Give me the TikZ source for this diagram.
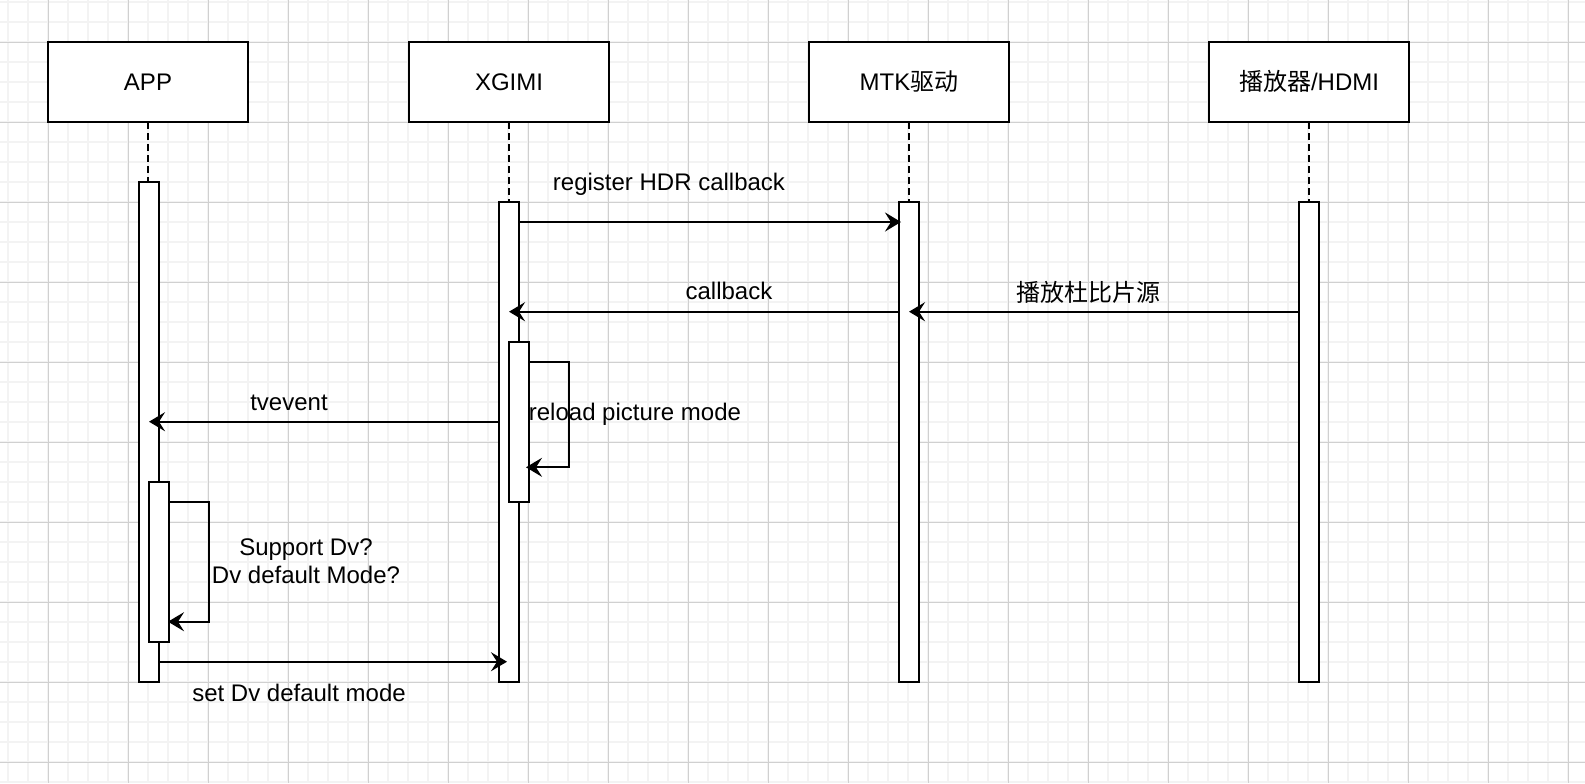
\documentclass[tikz,border=0pt]{standalone}
\usepackage{fontspec}
\setmainfont{Liberation Sans}
\newfontfamily\cjk{Noto Sans CJK SC}
\usetikzlibrary{arrows.meta}
\definecolor{gridminor}{HTML}{F3F3F3}
\definecolor{gridmajor}{HTML}{D0D0D0}
\begin{document}
\begin{tikzpicture}[x=0.5pt,y=-0.5pt,
  actor/.style={draw,line width=1.1pt,fill=white,minimum width=100pt,minimum height=40pt,
    inner sep=0pt,outer sep=0pt,text height=8.6pt,text depth=0pt,font=\fontsize{12}{14.25}\selectfont},
  bar/.style={draw,line width=1.1pt,fill=white,minimum width=10pt,inner sep=0pt,outer sep=0pt},
  life/.style={line width=1.1pt,dash pattern=on 3.5pt off 2pt},
  msg/.style={line width=1.1pt,-{Stealth[length=8pt,width=9.5pt,inset=3pt]}},
  lbl/.style={inner sep=0pt,font=\fontsize{12}{14.25}\selectfont},
  gminor/.style={gridminor,line width=1pt},
  gmajor/.style={gridmajor,line width=0.5pt},
]
\useasboundingbox (0,0) rectangle (1585,783);
\fill[white] (0,0) rectangle (1585,783);
\begin{scope}
\clip (0,0) rectangle (1585,783);
\foreach \i in {8,28,...,1588} \draw[gminor] (\i,0) -- (\i,783);
\foreach \j in {2,22,...,782} \draw[gminor] (0,\j) -- (1585,\j);
\foreach \i in {48,128,...,1568} \draw[gmajor] (\i,0) -- (\i,783);
\foreach \j in {42,122,...,762} \draw[gmajor] (0,\j) -- (1585,\j);
\end{scope}

% actors
\node[actor] (app) at (148,82) {APP};
\node[actor] (xg) at (509,82) {XGIMI};
\node[actor] (mtk) at (909,82) {MTK{\cjk 驱动}};
\node[actor] (hd) at (1309,82) {{\cjk 播放器}/HDMI};

% lifelines down to activation bars
\coordinate (abartop) at (149,182);
\coordinate (xbartop) at (509,202);
\coordinate (mbartop) at (909,202);
\coordinate (hbartop) at (1309,202);
\draw[life] (app.south) -- (app.south |- abartop);
\draw[life] (xg.south) -- (xg.south |- xbartop);
\draw[life] (mtk.south) -- (mtk.south |- mbartop);
\draw[life] (hd.south) -- (hd.south |- hbartop);

\node[bar,minimum height=250pt] (abar) at (149,432) {};
\node[bar,minimum height=240pt] (xbar) at (509,442) {};
\node[bar,minimum height=240pt] (mbar) at (909,442) {};
\node[bar,minimum height=240pt] (hbar) at (1309,442) {};
\node[bar,minimum height=80pt] (xsub) at (519,422) {};
\node[bar,minimum height=80pt] (asub) at (159,562) {};

% messages
\coordinate (y1) at (0,222);
\draw[msg,shorten >=-1pt] (xbar.east |- y1) -- (mbar.west |- y1);
\node[lbl,anchor=base] at (669,190) {register HDR callback};

\coordinate (y2) at (0,311.7);
\draw[msg] (mbar.west |- y2) -- (xbar.center |- y2);
\node[lbl,anchor=base] at (729,299) {callback};
\draw[msg] (hbar.west |- y2) -- (mbar.center |- y2);
\node[lbl] at (1088.5,292) {\cjk 播放杜比片源};

\coordinate (l1a) at (569,362);
\coordinate (l1b) at (569,467.3);
\draw[msg,shorten >=-1.5pt] (xsub.east |- l1a) -- (l1a) -- (l1b) -- (xsub.east |- l1b);
\node[lbl,anchor=base west] at (528.5,420.5) {reload picture mode};

\coordinate (y4) at (0,421.7);
\draw[msg] (xbar.west |- y4) -- (abar.center |- y4);
\node[lbl,anchor=base] at (289,410) {tvevent};

\coordinate (l2a) at (209,502);
\coordinate (l2b) at (209,621.7);
\draw[msg,shorten >=-0.5pt] (asub.east |- l2a) -- (l2a) -- (l2b) -- (asub.east |- l2b);
\node[lbl,align=center] at (306,561) {Support Dv?\\Dv default Mode?};

\coordinate (y6) at (0,661.7);
\draw[msg,shorten >=1pt] (abar.east |- y6) -- (xbar.center |- y6);
\node[lbl,anchor=base] at (299,701) {set Dv default mode};
\end{tikzpicture}
\end{document}
